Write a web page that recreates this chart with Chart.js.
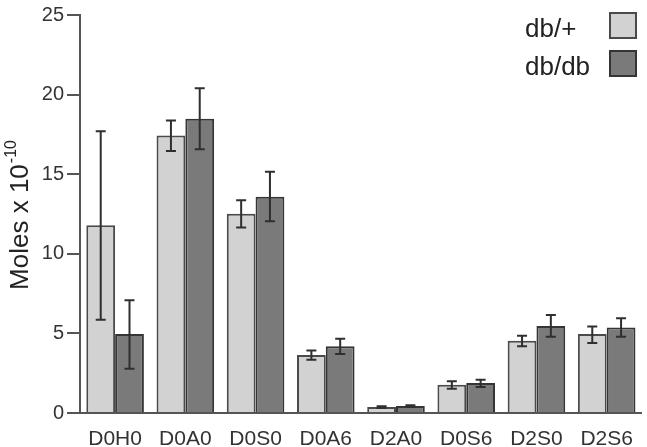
<!DOCTYPE html>
<html>
<head>
<meta charset="utf-8">
<script src="https://cdn.jsdelivr.net/npm/chart.js@4.4.1/dist/chart.umd.min.js"></script>
<style>
  html, body { margin: 0; padding: 0; background: #fff; }
  #c { display: block; }
</style>
</head>
<body>
<canvas id="c" width="647" height="447"></canvas>
<script>
const categories = ['D0H0', 'D0A0', 'D0S0', 'D0A6', 'D2A0', 'D0S6', 'D2S0', 'D2S6'];
const seriesNames = ['db/+', 'db/db'];
const dbPlus     = [11.8, 17.43, 12.52, 3.65, 0.37, 1.78, 4.54, 4.96];
const dbPlusLow  = [5.85, 16.46, 11.65, 3.34, 0.32, 1.53, 4.19, 4.40];
const dbPlusHigh = [17.7, 18.37, 13.37, 3.92, 0.42, 1.99, 4.85, 5.43];
const dbdb       = [4.96, 18.49, 13.58, 4.19, 0.44, 1.88, 5.47, 5.37];
const dbdbLow    = [2.78, 16.56, 12.05, 3.71, 0.39, 1.64, 4.79, 4.79];
const dbdbHigh   = [7.09, 20.40, 15.15, 4.66, 0.49, 2.09, 6.16, 5.95];
const yTicks = [0, 5, 10, 15, 20, 25];
const yTitleMain = 'Moles x 10';
const yTitleSup = '-10';

const FONT = '"Liberation Sans", Arial, Helvetica, sans-serif';
const fills = ['#d2d2d2', '#7a7a7a'];
const borders = ['#4a4a4a', '#353535'];
const errLow = [dbPlusLow, dbdbLow];
const errHigh = [dbPlusHigh, dbdbHigh];

const errorBars = {
  id: 'errorBars',
  afterDatasetsDraw(chart) {
    const ctx = chart.ctx;
    const ys = chart.scales.y;
    ctx.save();
    ctx.strokeStyle = '#2f2f2f';
    ctx.lineWidth = 2;
    chart.data.datasets.forEach((ds, di) => {
      const meta = chart.getDatasetMeta(di);
      meta.data.forEach((bar, i) => {
        const x = bar.x;
        const yl = ys.getPixelForValue(errLow[di][i]);
        const yh = ys.getPixelForValue(errHigh[di][i]);
        const cw = 5;
        ctx.beginPath();
        ctx.moveTo(x, yl); ctx.lineTo(x, yh);
        ctx.moveTo(x - cw, yl); ctx.lineTo(x + cw, yl);
        ctx.moveTo(x - cw, yh); ctx.lineTo(x + cw, yh);
        ctx.stroke();
      });
    });
    ctx.restore();
  }
};

const decorations = {
  id: 'decorations',
  afterDraw(chart) {
    const ctx = chart.ctx;
    ctx.save();
    // Legend
    ctx.font = '26px ' + FONT;
    ctx.textBaseline = 'alphabetic';
    ctx.textAlign = 'left';
    chart.data.datasets.forEach((ds, di) => {
      const base = 37 + di * 38;
      ctx.fillStyle = '#222';
      ctx.fillText(ds.label, 525, base);
      ctx.fillStyle = fills[di];
      ctx.fillRect(609, 12 + di * 38, 28, 27);
      ctx.strokeStyle = borders[di];
      ctx.lineWidth = 2;
      ctx.strokeRect(610, 13 + di * 38, 26, 25);
    });
    // Y axis title with superscript
    ctx.translate(28, 215);
    ctx.rotate(-Math.PI / 2);
    ctx.font = '26px ' + FONT;
    const w1 = ctx.measureText(yTitleMain).width;
    ctx.font = '16px ' + FONT;
    const w2 = ctx.measureText(yTitleSup).width;
    const total = w1 + w2 + 1;
    ctx.fillStyle = '#222';
    ctx.textAlign = 'left';
    ctx.font = '26px ' + FONT;
    ctx.fillText(yTitleMain, -total / 2, 0);
    ctx.font = '16px ' + FONT;
    ctx.fillText(yTitleSup, -total / 2 + w1 + 1, -12);
    ctx.restore();
  }
};

new Chart(document.getElementById('c'), {
  type: 'bar',
  data: {
    labels: categories,
    datasets: [
      { label: seriesNames[0], data: dbPlus, backgroundColor: fills[0], borderColor: borders[0], borderWidth: 2 },
      { label: seriesNames[1], data: dbdb, backgroundColor: fills[1], borderColor: borders[1], borderWidth: 2 }
    ]
  },
  options: {
    responsive: false,
    animation: false,
    devicePixelRatio: 1,
    layout: { padding: { top: 11, right: 1, left: 0, bottom: 0 } },
    datasets: { bar: { categoryPercentage: 0.82, barPercentage: 1.0 } },
    plugins: { legend: { display: false }, tooltip: { enabled: false }, title: { display: false } },
    scales: {
      x: {
        grid: { display: false, drawTicks: false },
        border: { display: true, color: '#555', width: 2 },
        ticks: { color: '#333', font: { family: FONT, size: 21 }, padding: 14, maxRotation: 0, autoSkip: false },
        afterFit(s) { s.height = 34; }
      },
      y: {
        min: 0, max: 25,
        afterBuildTicks(s) { s.ticks = yTicks.map(v => ({ value: v })); },
        grid: { display: true, drawOnChartArea: false, drawTicks: true, tickLength: 13, color: '#555', lineWidth: 2 },
        border: { display: true, color: '#555', width: 2 },
        ticks: { color: '#333', font: { family: FONT, size: 20 }, padding: 3 },
        afterFit(s) { s.width = 80; }
      }
    }
  },
  plugins: [errorBars, decorations]
});
</script>
</body>
</html>
